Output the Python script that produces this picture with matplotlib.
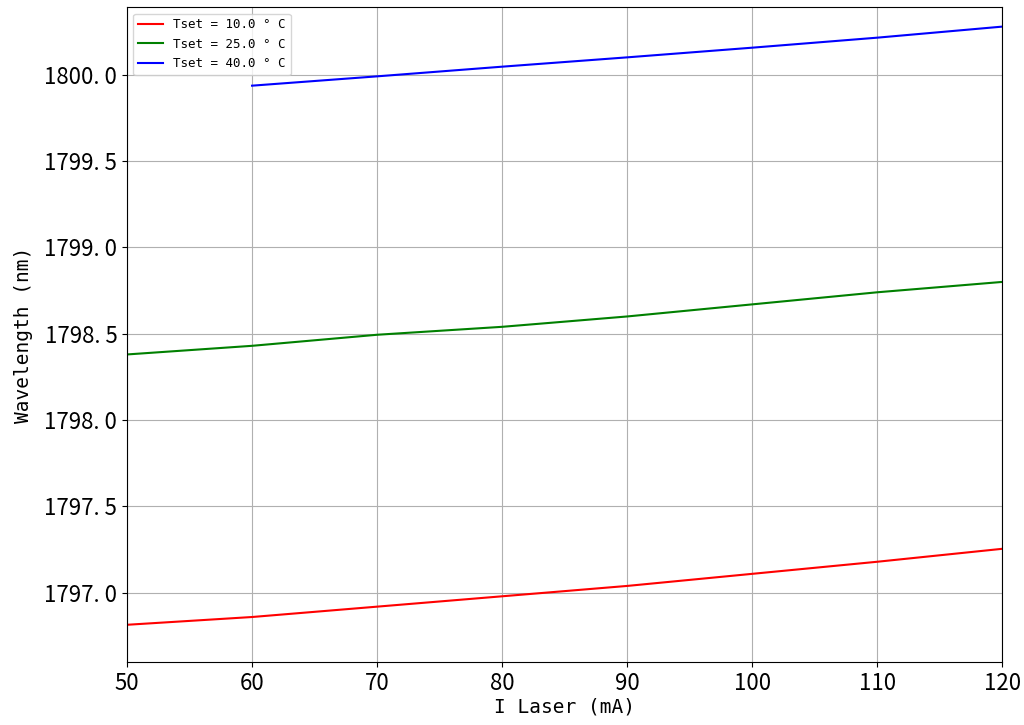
import numpy as np
import matplotlib
matplotlib.use("Agg")
import matplotlib.pyplot as plt

plt.rcParams['font.family'] = ['Noto Sans CJK SC', 'DejaVu Sans']
plt.rcParams['axes.unicode_minus'] = False

# laser current (mA)
current = [50, 60, 70, 80, 90, 100, 110, 120]
current_40 = [60, 70, 80, 90, 100, 110, 120]

# wavelength (nm) for each set temperature
wl_10 = [1796.815, 1796.86, 1796.92, 1796.98, 1797.04, 1797.11, 1797.18, 1797.255]
wl_25 = [1798.38, 1798.43, 1798.494, 1798.54, 1798.60, 1798.67, 1798.74, 1798.80]
wl_40 = [1799.936, 1799.99, 1800.046, 1800.10, 1800.156, 1800.214, 1800.278]

mono = ['DejaVu Sans Mono']

fig = plt.figure(figsize=(10.24, 7.25), dpi=100)
ax = fig.add_axes([0.124, 0.087, 0.855, 0.903])

ax.plot(current, wl_10, color="red", lw=1.5, label="Tset = 10.0 ° C")
ax.plot(current, wl_25, color="green", lw=1.5, label="Tset = 25.0 ° C")
ax.plot(current_40, wl_40, color="blue", lw=1.5, label="Tset = 40.0 ° C")

ax.set_xlim(50, 120)
ax.set_ylim(1796.6, 1800.39)
ax.set_yticks([1797.0, 1797.5, 1798.0, 1798.5, 1799.0, 1799.5, 1800.0])
ax.set_yticklabels(["1797. 0", "1797. 5", "1798. 0", "1798. 5", "1799. 0", "1799. 5", "1800. 0"])
ax.tick_params(labelsize=16)
ax.grid(True, color="#b0b0b0", lw=0.8)

ax.set_xlabel("I Laser (mA)", fontsize=14, family=mono, labelpad=2)
ax.set_ylabel("Wavelength (nm)", fontsize=14, family=mono, labelpad=8)
ax.legend(loc="upper left", prop={'family': mono, 'size': 9})

fig.savefig("out.png", dpi=100)
